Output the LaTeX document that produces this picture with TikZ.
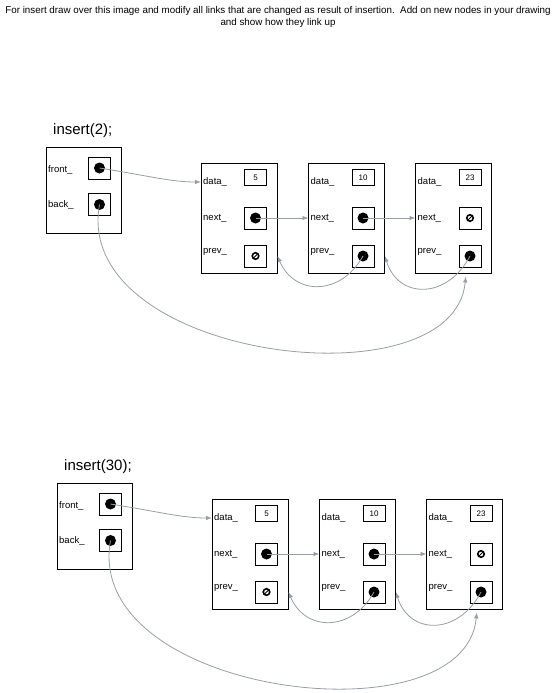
\documentclass[tikz,border=0pt]{standalone}
\usepackage{fontspec}
\setmainfont{Liberation Sans}
\usetikzlibrary{positioning, arrows.meta, calc}
\definecolor{linkgray}{RGB}{152,158,168}

\begin{document}
\begin{tikzpicture}[
    x=1pt, y=-1pt,
    holder/.style={draw, line width=0.9pt, minimum width=75pt, minimum height=86pt, inner sep=0pt},
    listnode/.style={draw, line width=0.9pt, minimum width=76pt, minimum height=110pt, inner sep=0pt},
    valbox/.style={draw, line width=0.8pt, minimum width=22pt, minimum height=22pt, inner sep=0pt, font=\fontsize{8}{9}\selectfont},
    field/.style={anchor=west, inner sep=2pt, font=\fontsize{9.5}{10}\selectfont},
    ptr/.style={circle, fill=black, minimum size=11pt, inner sep=0pt},
    nil/.style={circle, draw, line width=1.6pt, minimum size=6.5pt, inner sep=0pt,
        append after command={(\tikzlastnode.south west) edge[line width=0.9pt] (\tikzlastnode.north east)}},
    link/.style={draw=linkgray, line width=0.8pt, -{Latex[length=6pt,width=4.5pt]}}
]
    \useasboundingbox (0,0) rectangle (556,693);

    % Header
    \node[align=center, font=\fontsize{9.8}{11.5}\selectfont] (hdr) at (278,17)
        {For insert draw over this image and modify all links that are changed as result of insertion.\ \ Add on new nodes in your drawing\\
         and show how they link up};

    \foreach \call/\dx/\dy in {2/0/0, 30/11/336}{
    \begin{scope}[shift={(\dx,\dy)}, name prefix=d\call-]
        % Title
        \node[anchor=base west, inner sep=0pt, font=\fontsize{15}{17}\selectfont] (title) at (53,134) {insert(\call);};

        % front_/back_ holder
        \node[holder] (list) at (83.5,190) {};
        \node[field] (flbl) at (46,170) {front\_};
        \node[field] (blbl) at (46,205) {back\_};
        \node[valbox] (fbox) at (99.5,168) {};
        \node[valbox] (bbox) at (99.5,204.5) {};
        \node[ptr] (fc) at (fbox) {};
        \node[ptr] (bc) at (bbox) {};

        % List nodes
        \foreach \i/\x/\v in {1/239/5, 2/346.5/10, 3/453.5/23}{
            \node[listnode] (n\i) at (\x,218) {};
            \node[field] (d\i) at (\x-38,182) {data\_};
            \node[field] (nx\i) at (\x-38,218) {next\_};
            \node[field] (pv\i) at (\x-38,252) {prev\_};
            \node[valbox, minimum height=16pt] (v\i) at (\x+16.5,177.5) {\v};
            \node[valbox] (x\i) at (\x+16.5,218) {};
            \node[valbox] (p\i) at (\x+16.5,256) {};
        }

        % Pointers
        \node[ptr] (xc1) at (x1) {};
        \node[ptr] (xc2) at (x2) {};
        \node[nil] (xc3) at (x3) {};
        \node[nil] (pc1) at (p1) {};
        \node[ptr] (pc2) at (p2) {};
        \node[ptr] (pc3) at (p3) {};

        % Links
        \draw[link] (fc.center) .. controls +(50,8) and +(-30,0) .. (d1.west);
        \draw[link] (xc1.center) -- (nx2.west);
        \draw[link] (xc2.center) -- (nx3.west);
        \draw[link] (pc2.center) .. controls +(-22,40) and +(17,40) .. (n1.east |- p1);
        \draw[link] (pc3.center) .. controls +(-23,44) and +(13,43) .. (n2.east |- p2);
        \draw[link, shorten >=3pt] (bc.center) .. controls +(-28,155) and +(-12,133) .. ([xshift=-4pt]n3.south -| p3);
    \end{scope}
    }
\end{tikzpicture}
\end{document}
